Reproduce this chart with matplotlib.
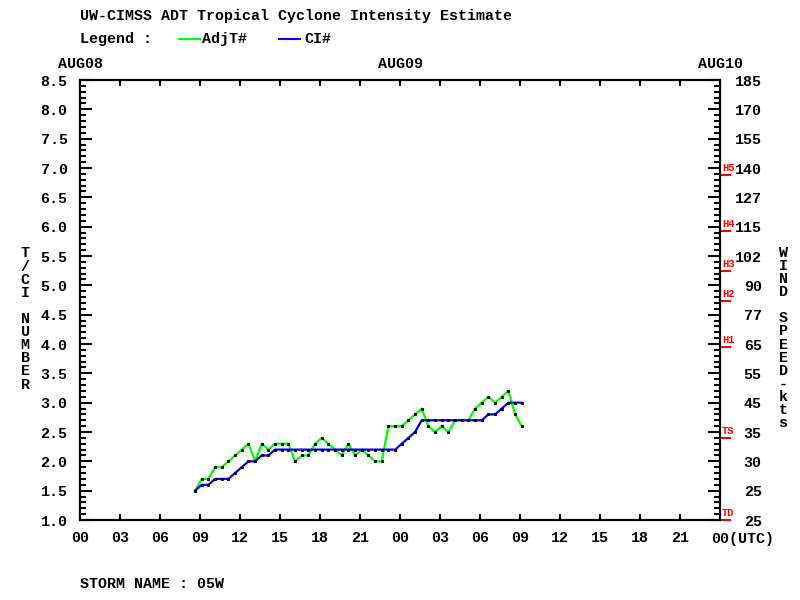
import matplotlib
matplotlib.use('Agg')
import matplotlib.pyplot as plt
from matplotlib.ticker import MultipleLocator

# ---------------- data ----------------
hours = [8.63, 9.13, 9.63, 10.13, 10.63, 11.13, 11.63, 12.13, 12.63, 13.13,
         13.63, 14.13, 14.63, 15.13, 15.63, 16.13, 16.63, 17.13, 17.63, 18.13,
         18.63, 19.13, 19.63, 20.13, 20.63, 21.13, 21.63, 22.13, 22.63, 23.13,
         23.63, 24.13, 24.63, 25.13, 25.63, 26.13, 26.63, 27.13, 27.63, 28.13,
         28.63, 29.13, 29.63, 30.13, 30.63, 31.13, 31.63, 32.13, 32.63, 33.13]
adjt = [1.5, 1.7, 1.7, 1.9, 1.9, 2.0, 2.1, 2.2, 2.3, 2.0,
        2.3, 2.2, 2.3, 2.3, 2.3, 2.0, 2.1, 2.1, 2.3, 2.4,
        2.3, 2.2, 2.1, 2.3, 2.1, 2.2, 2.1, 2.0, 2.0, 2.6,
        2.6, 2.6, 2.7, 2.8, 2.9, 2.6, 2.5, 2.6, 2.5, 2.7,
        2.7, 2.7, 2.9, 3.0, 3.1, 3.0, 3.1, 3.2, 2.8, 2.6]
ci = [1.5, 1.6, 1.6, 1.7, 1.7, 1.7, 1.8, 1.9, 2.0, 2.0,
      2.1, 2.1, 2.2, 2.2, 2.2, 2.2, 2.2, 2.2, 2.2, 2.2,
      2.2, 2.2, 2.2, 2.2, 2.2, 2.2, 2.2, 2.2, 2.2, 2.2,
      2.2, 2.3, 2.4, 2.5, 2.7, 2.7, 2.7, 2.7, 2.7, 2.7,
      2.7, 2.7, 2.7, 2.7, 2.8, 2.8, 2.9, 3.0, 3.0, 3.0]

ci_ticks = [1.0, 1.5, 2.0, 2.5, 3.0, 3.5, 4.0, 4.5, 5.0, 5.5, 6.0, 6.5, 7.0, 7.5, 8.0, 8.5]
ci_labels = ['1.0', '1.5', '2.0', '2.5', '3.0', '3.5', '4.0', '4.5', '5.0', '5.5',
             '6.0', '6.5', '7.0', '7.5', '8.0', '8.5']
wind_labels = ['25', '25', '30', '35', '45', '55', '65', '77', '90', '102',
               '115', '127', '140', '155', '170', '185']
x_ticks = [0, 3, 6, 9, 12, 15, 18, 21, 24, 27, 30, 33, 36, 39, 42, 45, 48]
x_labels = ['00', '03', '06', '09', '12', '15', '18', '21', '00', '03', '06',
            '09', '12', '15', '18', '21', '']
last_label = '00(UTC)'
day_pos = [0, 24, 48]
day_labels = ['AUG08', 'AUG09', 'AUG10']
cat_names = ['TD', 'TS', 'H1', 'H2', 'H3', 'H4', 'H5']
cat_ci = [1.0, 2.4, 3.95, 4.73, 5.25, 5.92, 6.88]

FONT = 'Liberation Mono'
FS = 10.8
plt.rcParams['font.family'] = [FONT, 'DejaVu Sans Mono']
plt.rcParams['font.weight'] = 'bold'

fig = plt.figure(figsize=(8, 6), dpi=100)
ax = fig.add_axes([0.1, 1 - 520 / 600, 0.8, 440 / 600])

ax.plot(hours, adjt, color='#00ff00', lw=1.6, zorder=3)
ax.plot(hours, adjt, ls='none', marker='s', ms=1.2, color='black', zorder=4)
ax.plot(hours, ci, color='#0000ff', lw=1.6, zorder=5)
ax.plot(hours, ci, ls='none', marker='s', ms=1.2, color='black', zorder=6)

ax.set_xlim(0, 48)
ax.set_ylim(1.0, 8.5)
for s in ax.spines.values():
    s.set_linewidth(1.5)

ax.set_xticks(x_ticks)
ax.set_xticklabels(x_labels, fontsize=FS, fontweight='bold')
ax.set_yticks(ci_ticks)
ax.set_yticklabels(ci_labels, fontsize=FS, fontweight='bold')
ax.yaxis.set_minor_locator(MultipleLocator(0.1))
ax.tick_params(axis='x', which='major', direction='in', length=4.5, width=1.5,
               top=True, bottom=True, pad=8)
ax.tick_params(axis='y', which='major', direction='in', length=8.5, width=1.5, pad=9)
ax.tick_params(axis='y', which='minor', direction='in', length=4.3, width=1.5)

ax2 = ax.twinx()
ax2.set_ylim(1.0, 8.5)
ax2.set_yticks(ci_ticks)
ax2.set_yticklabels(wind_labels, fontsize=FS, fontweight='bold')
ax2.yaxis.set_minor_locator(MultipleLocator(0.1))
ax2.tick_params(axis='y', which='major', direction='in', length=8.5, width=1.5, pad=30)
ax2.tick_params(axis='y', which='minor', direction='in', length=4.3, width=1.5)
for lbl in ax2.get_yticklabels():
    lbl.set_horizontalalignment('right')
for s in ax2.spines.values():
    s.set_linewidth(1.5)

# last bottom label
ax.annotate(last_label, xy=(48, 0), xycoords=('data', 'axes fraction'),
            xytext=(-8.5, -12), textcoords='offset pixels', ha='left', va='top',
            fontsize=FS, fontweight='bold')
# day labels on top
for p, d in zip(day_pos, day_labels):
    ax.annotate(d, xy=(p, 1), xycoords=('data', 'axes fraction'),
                xytext=(0, 16), textcoords='offset pixels', ha='center', va='center',
                fontsize=FS, fontweight='bold')

# intensity category markers on right side
for name, c in zip(cat_names, cat_ci):
    ax.plot([1.001, 1.016], [c, c], transform=ax.get_yaxis_transform(),
            color='red', lw=1.5, clip_on=False, zorder=7)
    ax.annotate(name, xy=(1, c), xycoords=('axes fraction', 'data'),
                xytext=(2, 2), textcoords='offset pixels', ha='left', va='bottom',
                fontsize=7.5, fontweight='bold', color='red')

# titles and labels
fig.text(80 / 800, 1 - 16 / 600, 'UW-CIMSS ADT Tropical Cyclone Intensity Estimate',
         ha='left', va='center', fontsize=FS, fontweight='bold')
fig.text(80 / 800, 1 - 39 / 600, 'Legend :', ha='left', va='center',
         fontsize=FS, fontweight='bold')
fig.add_artist(plt.Line2D([179 / 800, 200 / 800], [1 - 39 / 600, 1 - 39 / 600],
                          color='#00ff00', lw=1.5))
fig.text(202 / 800, 1 - 39 / 600, 'AdjT#', ha='left', va='center',
         fontsize=FS, fontweight='bold')
fig.add_artist(plt.Line2D([279 / 800, 300 / 800], [1 - 39 / 600, 1 - 39 / 600],
                          color='#0000ff', lw=1.5))
fig.text(304 / 800, 1 - 39 / 600, 'CI#', ha='left', va='center',
         fontsize=FS, fontweight='bold')

fig.text(25 / 800, 1 - 319 / 600, '\n'.join('T/CI NUMBER'), ha='center', va='center',
         fontsize=FS, fontweight='bold', linespacing=0.92)
fig.text(783 / 800, 1 - 338 / 600, '\n'.join('WIND SPEED-kts'), ha='center', va='center',
         fontsize=FS, fontweight='bold', linespacing=0.92)

fig.text(80 / 800, 1 - 584 / 600, 'STORM NAME : 05W', ha='left', va='center',
         fontsize=FS, fontweight='bold')

fig.savefig('out.png', dpi=100)
